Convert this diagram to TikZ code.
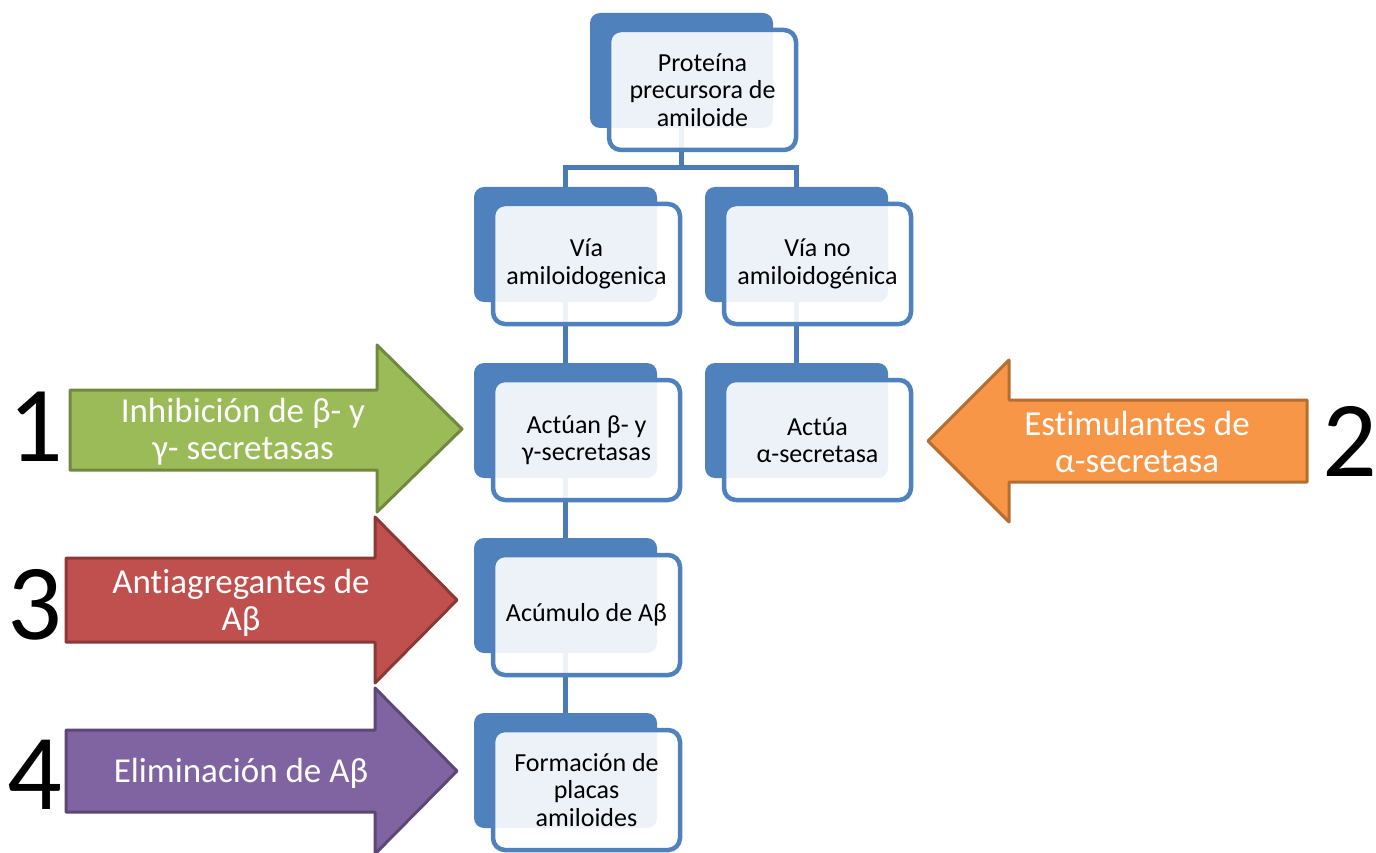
\documentclass[tikz,border=0pt]{standalone}
\usepackage{fontspec}
\setmainfont{Carlito}[Ligatures=NoCommon]
\usetikzlibrary{positioning,backgrounds}

\definecolor{boxblue}{HTML}{4F81BD}
\definecolor{linkblue}{HTML}{4A7BB7}
\definecolor{grfill}{HTML}{9BBB59}
\definecolor{grline}{HTML}{71893F}
\definecolor{orfill}{HTML}{F79646}
\definecolor{orline}{HTML}{B66D31}
\definecolor{rdfill}{HTML}{C0504D}
\definecolor{rdline}{HTML}{8C3836}
\definecolor{pufill}{HTML}{8064A2}
\definecolor{puline}{HTML}{5C4776}

\tikzset{
  backbox/.style={fill=boxblue, rounded corners=10pt, minimum width=183pt, minimum height=115pt,
    inner sep=0pt, outer sep=0pt, anchor=north west},
  frontbox/.style={draw=boxblue, line width=4.5pt, fill=white, fill opacity=0.9, text opacity=1,
    rounded corners=12pt, minimum width=187pt, minimum height=120pt, inner sep=0pt, outer sep=0pt,
    align=center, font=\fontsize{26}{27.5}\selectfont, below right=17pt and 19pt of #1},
  link/.style={draw=linkblue, line width=5pt},
  bigarrow/.style={line width=3pt, line join=round},
  arrowtext/.style={text=white, align=center, font=\fontsize{35}{37}\selectfont},
  num/.style={inner sep=0pt, font=\fontsize{108}{108}\selectfont}
}

\begin{document}
\begin{tikzpicture}[x=1pt,y=-1pt]
\useasboundingbox (0,0) rectangle (1376,853);

% boxes
\node[backbox] (ppab) at (590,13) {};
\node[frontbox=ppab.north west] (ppa) {Proteína\\precursora de\\amiloide};

\node[backbox] (amyb) at (474,187) {};
\node[frontbox=amyb.north west] (amy) {Vía\\amiloidogenica};
\node[backbox] (noamyb) at (705,187) {};
\node[frontbox=noamyb.north west] (noamy) {Vía no\\amiloidogénica};

\node[backbox] (secb) at (474,363) {};
\node[frontbox=secb.north west] (sec) {Actúan β- y\\γ-secretasas};
\node[backbox] (alfab) at (705,363) {};
\node[frontbox=alfab.north west] (alfa) {Actúa\\α-secretasa};

\node[backbox] (acumb) at (474,538) {};
\node[frontbox=acumb.north west] (acum) {Acúmulo de Aβ};

\node[backbox] (placasb) at (474,713) {};
\node[frontbox=placasb.north west] (placas) {Formación de\\placas\\amiloides};

% connectors
\coordinate (split) at (681.5,168);
\begin{scope}[on background layer]
  \draw[link] (ppab.center) -- (split);
  \draw[link] (split) -| (amyb.center);
  \draw[link] (split) -| (noamyb.center);
  \draw[link] (amyb.center) -- (secb.center) -- (acumb.center) -- (placasb.center);
  \draw[link] (noamyb.center) -- (alfab.center);
\end{scope}

% arrows
\filldraw[bigarrow, fill=grfill, draw=grline] (70,390) -- (377,390) -- (377,345) -- (462,429)
  -- (377,512) -- (377,470) -- (70,470) -- cycle;
\filldraw[bigarrow, fill=orfill, draw=orline] (1307,400) -- (1009,400) -- (1009,360) -- (928,441)
  -- (1009,522) -- (1009,482) -- (1307,482) -- cycle;
\filldraw[bigarrow, fill=rdfill, draw=rdline] (66,558) -- (375,558) -- (375,517) -- (457,600)
  -- (375,683) -- (375,642) -- (66,642) -- cycle;
\filldraw[bigarrow, fill=pufill, draw=puline] (66,730) -- (375,730) -- (375,688) -- (457,771)
  -- (375,854) -- (375,812) -- (66,812) -- cycle;

\node[arrowtext] (inhib) at (243,432) {Inhibición de β- y\\γ- secretasas};
\node[arrowtext] (estim) at (1137,442) {Estimulantes de\\α-secretasa};
\node[arrowtext] (antiag) at (241,603) {Antiagregantes de\\Aβ};
\node[arrowtext] (elim) at (241,773) {Eliminación de Aβ};

\node[num] (n1) at (36,427) {1};
\node[num] (n2) at (1350,441) {2};
\node[num] (n3) at (35,605) {3};
\node[num] (n4) at (35,775) {4};
\end{tikzpicture}
\end{document}
